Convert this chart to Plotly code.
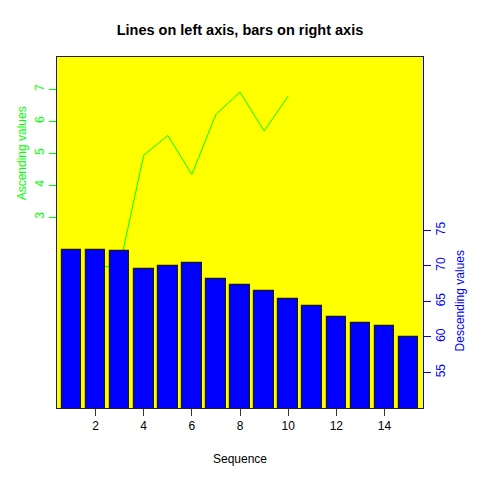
import plotly.graph_objects as go

# data
line_x = [2, 3, 4, 5, 6, 7, 8, 9, 10]
going_up = [1.45, 1.45, 4.94, 5.56, 4.34, 6.22, 6.92, 5.70, 6.79]

bar_x = list(range(1, 16))
going_down = [72.3, 72.2, 72.1, 69.6, 69.95, 70.35, 68.1, 67.3, 66.5,
              65.35, 64.4, 62.75, 61.95, 61.6, 59.95]

left_ticks = [3, 4, 5, 6, 7]
right_ticks = [55, 60, 65, 70, 75]
x_ticks = [2, 4, 6, 8, 10, 12, 14]

FONT = "Liberation Sans, Arial, sans-serif"
GREEN = "#00FF00"
BLUE = "#0000FF"

fig = go.Figure()
# line on the left axis (drawn first, bars cover it)
fig.add_trace(go.Scatter(x=line_x, y=going_up, mode="lines",
                         line=dict(color=GREEN, width=1), yaxis="y"))
# bars on the right axis
fig.add_trace(go.Bar(x=bar_x, y=going_down, width=0.815, yaxis="y2",
                     marker=dict(color=BLUE, line=dict(color="#1a1a1a", width=1.2))))

fig.update_layout(
    width=480, height=480,
    margin=dict(l=57, r=57, t=57, b=72),
    paper_bgcolor="white", plot_bgcolor="yellow",
    showlegend=False,
    font=dict(family=FONT, size=12, color="black"),
    title=dict(text="<b>Lines on left axis, bars on right axis</b>",
               x=0.5, xanchor="center", y=1 - 30 / 480, yanchor="middle",
               font=dict(size=14.5, color="black")),
    xaxis=dict(range=[0.4, 15.6], tickvals=x_ticks, ticks="outside", ticklen=7,
               tickcolor="#333333", showgrid=False, zeroline=False,
               showline=True, linecolor="#222222", mirror=True,
               tickfont=dict(size=12, color="black")),
    yaxis=dict(range=[-2.98, 8.02], tickvals=left_ticks, ticks="outside", ticklen=7,
               tickcolor=GREEN, tickangle=-90, showgrid=False, zeroline=False,
               showline=True, linecolor="#222222",
               tickfont=dict(size=12, color=GREEN)),
    yaxis2=dict(range=[50.0, 99.4], tickvals=right_ticks, ticks="outside", ticklen=7,
                tickcolor=BLUE, tickangle=-90, showgrid=False, zeroline=False,
                showline=True, linecolor=BLUE, overlaying="y", side="right",
                tickfont=dict(size=12, color=BLUE)),
    bargap=0,
)

fig.add_annotation(text="Ascending values", xref="paper", x=(22 - 57) / 366,
                   xanchor="center", yref="y", y=5, yanchor="middle",
                   textangle=-90, showarrow=False,
                   font=dict(size=12, color=GREEN))
fig.add_annotation(text="Descending values", xref="paper", x=(460 - 57) / 366,
                   xanchor="center", yref="y2", y=65, yanchor="middle",
                   textangle=-90, showarrow=False,
                   font=dict(size=12, color=BLUE))
fig.add_annotation(text="Sequence", xref="paper", x=0.5,
                   yref="paper", y=-(459 - 408) / 351, yanchor="middle",
                   showarrow=False, font=dict(size=12, color="black"))

# drop the default page margin so the figure sits at the window corner
fig.write_html("out.html", config={"displayModeBar": False},
               post_script="document.body.style.margin='0';")
